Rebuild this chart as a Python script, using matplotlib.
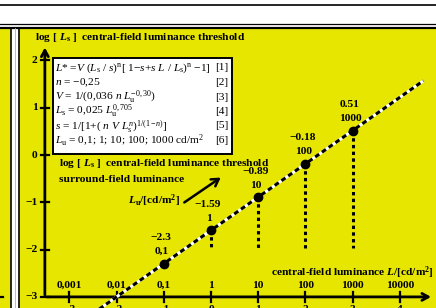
import matplotlib
matplotlib.use("Agg")
import matplotlib.pyplot as plt
from matplotlib.patches import Rectangle

plt.rcParams['font.family'] = ['Liberation Serif', 'DejaVu Serif']
plt.rcParams['mathtext.fontset'] = 'custom'
plt.rcParams['mathtext.rm'] = 'Liberation Serif'
plt.rcParams['mathtext.it'] = 'Liberation Serif:italic'
plt.rcParams['mathtext.bf'] = 'Liberation Serif:bold'
plt.rcParams['mathtext.bfit'] = 'Liberation Serif:italic:bold'

# --- data ---
lum_u = ['0,1', '1', '10', '100', '1000']          # surround luminance L_u
log_lu = [-1, 0, 1, 2, 3]                           # log L_u (x)
log_ls = [-2.3, -1.59, -0.89, -0.18, 0.51]          # log L_s (y)
ls_labels = ['\u22122.3', '\u22121.59', '\u22120.89', '\u22120.18', '0.51']
x_ticks = [-3, -2, -1, 0, 1, 2, 3, 4]
x_top_labels = ['0,001', '0,01', '0,1', '1', '10', '100', '1000', '10000']
x_bot_labels = ['\u22123', '\u22122', '\u22121', '0', '1', '2', '3', '4']
y_ticks = [2, 1, 0, -1, -2, -3]
y_labels = ['2', '1', '0', '\u22121', '\u22122', '\u22123']
line_x = [-2.4, 4.5]
line_y = [-3.28, 1.57]
dot_bottom = -1.97

YELLOW = '#e6e600'
W, H = 436, 308
X0, Y0, SX, SY = 211, 155, 47.2, 47.3   # pixel of data origin, px per unit
FS = 8.2


def T(px, py):
    # pixel position -> data position
    return (px - X0) / SX, (Y0 - py) / SY


fig = plt.figure(figsize=(W / 100, H / 100), dpi=100, facecolor='white')
ax = fig.add_axes([0, 0, 1, 1])
ax.set_xlim(T(0, 0)[0], T(W, 0)[0])
ax.set_ylim(T(0, H)[1], T(0, 0)[1])
ax.axis('off')

# frame / panels
for py, lw in [(5, 1.2), (24, 0.9), (27.8, 1.6)]:
    ax.plot([T(0, 0)[0], T(W, 0)[0]], [T(0, py)[1]] * 2, color='k', lw=lw, clip_on=False)
x_a, y_a = T(-5, 28)
x_b, y_b = T(11.5, 315)
ax.add_patch(Rectangle((x_a, y_b), x_b - x_a, y_a - y_b, fc=YELLOW, ec='k', lw=1.2))
x_a, y_a = T(18.5, 28)
x_b, y_b = T(445, 315)
ax.add_patch(Rectangle((x_a, y_b), x_b - x_a, y_a - y_b, fc=YELLOW, ec='k', lw=1.2))
ax.plot([T(15, 0)[0]] * 2, [T(0, 28)[1], T(0, H)[1]], color='#b0b0b0', lw=0.6)
ax.plot([T(0, 0)[0], T(2.5, 0)[0]], [T(0, 297)[1]] * 2, color='k', lw=1.6)

# axes with arrows
axis_x, axis_y = -3.52, -3.0
ax.annotate('', xy=(axis_x, 2.33), xytext=(axis_x, axis_y - 0.02),
            arrowprops=dict(arrowstyle='->,head_length=0.45,head_width=0.25', lw=2, color='k'))
ax.annotate('', xy=(4.72, axis_y), xytext=(axis_x - 0.02, axis_y),
            arrowprops=dict(arrowstyle='->,head_length=0.45,head_width=0.25', lw=2, color='k'))

for v, lab in zip(y_ticks, y_labels):
    ax.plot([axis_x - 0.09, axis_x + 0.09], [v, v], color='k', lw=1.6)
    ax.text(axis_x - 0.16, v, lab, ha='right', va='center', fontsize=FS, fontweight='bold')

for v, top, bot in zip(x_ticks, x_top_labels, x_bot_labels):
    ax.plot([v, v], [axis_y - 0.1, axis_y + 0.1], color='k', lw=1.6)
    ax.text(v, axis_y + 0.25, top, ha='center', va='center', fontsize=FS, fontweight='bold')
    ax.text(v, axis_y - 0.17, bot, ha='center', va='top', fontsize=FS, fontweight='bold')

# threshold line (black/white dashes)
ax.plot(line_x, line_y, color='white', lw=2.2, solid_capstyle='butt', zorder=3)
ax.plot(line_x, line_y, color='k', lw=2.2, linestyle=(0, (1.6, 1.1)), zorder=4)

# vertical dotted drops and points
for x, y, lu, ls in zip(log_lu, log_ls, lum_u, ls_labels):
    if y > dot_bottom:
        ax.plot([x, x], [y, dot_bottom], color='k', lw=2.2, linestyle=(0, (1.1, 1.1)), zorder=3)
    ax.plot(x, y, 'o', color='k', ms=6, zorder=5)
    ax.annotate(lu, (x, y), xytext=(-2, 12), textcoords='offset pixels',
                ha='center', va='center', fontsize=FS, fontweight='bold', zorder=6)
    ax.annotate(ls, (x, y), xytext=(-3, 26), textcoords='offset pixels',
                ha='center', va='center', fontsize=FS, fontweight='bold', zorder=6)

# titles and labels
ax.text(*T(35, 38), r'log [ $\mathbfit{L}_\mathbf{s}$ ]  central-field luminance threshold',
        ha='left', va='center', fontsize=FS, fontweight='bold')
ax.text(*T(59, 164), r'log [ $\mathbfit{L}_\mathbf{s}$ ]  central-field luminance threshold',
        ha='left', va='center', fontsize=FS, fontweight='bold')
ax.text(*T(59, 180), 'surround-field luminance',
        ha='left', va='center', fontsize=FS, fontweight='bold')
ax.text(*T(128, 201), r'$\mathbfit{L}_\mathbf{u}$/[cd/m$^\mathbf{2}$]',
        ha='left', va='center', fontsize=FS, fontweight='bold')
ax.text(*T(434, 273), r'central-field luminance $\mathbfit{L}$/[cd/m$^\mathbf{2}$]',
        ha='right', va='center', fontsize=FS, fontweight='bold')
ax.annotate('', xy=T(223, 176), xytext=T(182, 204),
            arrowprops=dict(arrowstyle='->,head_length=0.5,head_width=0.3', lw=1.8, color='k'))

# formula box
x_a, y_a = T(53, 58)
x_b, y_b = T(232, 154)
ax.add_patch(Rectangle((x_a, y_b), x_b - x_a, y_a - y_b, fc='white', ec='k', lw=1.4, zorder=2))
formulas = [
    r'$L$* =$V$ ($L_\mathrm{s}$ / $s$)$^\mathrm{n}$[ 1' + '\u2212' + r'$s$+$s$ $L$ / $L_\mathrm{s}$)$^\mathrm{n}$ ' + '\u22121]',
    r'$n$ = ' + '\u22120,25',
    r'$V$ = 1/(0,036 $n$ $L_\mathrm{u}^{-0,30}$)',
    r'$L_\mathrm{s}$ = 0,025 $L_\mathrm{u}^{0,705}$',
    r'$s$ = 1/[1+( $n$ $V$ $L_\mathrm{s}^{n}$)$^{1/(1-n)}$]',
    r'$L_\mathrm{u}$ = 0,1; 1; 10; 100; 1000 cd/m$^2$',
]
for i, f in enumerate(formulas):
    py = 68 + 14.5 * i
    ax.text(*T(55, py), f, ha='left', va='center', fontsize=FS, zorder=3)
    ax.text(*T(228, py), '[%d]' % (i + 1), ha='right', va='center', fontsize=FS, zorder=3)

fig.savefig('out.png', dpi=100, facecolor='white')
